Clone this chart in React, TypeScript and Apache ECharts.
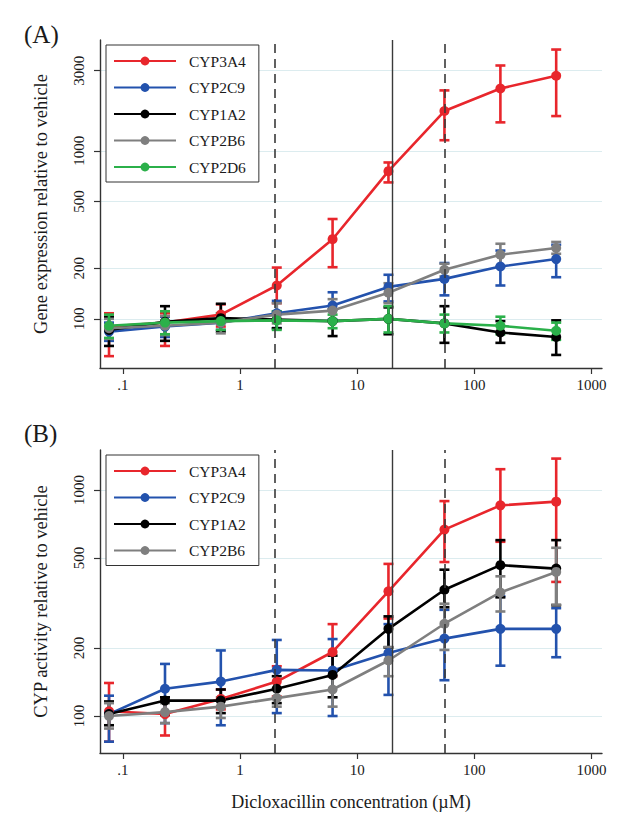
import React, { useEffect, useRef } from "react";
import * as echarts from "echarts";

// Dicloxacillin concentrations (µM), 3-fold dilutions
const conc = [0.0762, 0.229, 0.686, 2.06, 6.17, 18.5, 55.6, 167, 500];

// Panel A: gene expression relative to vehicle (%)
const a3A4 = [90, 95, 106, 158, 298, 757, 1726, 2350, 2799];
const a3A4Lo = [60, 69, 90, 124, 203, 649, 1157, 1478, 1611];
const a3A4Hi = [108, 108, 122, 202, 393, 853, 2290, 3222, 4010];
const a2C9 = [84, 90, 95, 108, 120, 155, 173, 205, 227];
const a2C9Lo = [74, 78, 86, 88, 99, 127, 138, 158, 177];
const a2C9Hi = [95, 103, 104, 128, 144, 183, 215, 255, 276];
const a1A2 = [86, 96, 101, 99, 97, 100, 94, 83, 78];
const a1A2Lo = [69, 74, 84, 88, 79, 81, 72, 72, 61];
const a1A2Hi = [103, 119, 123, 110, 114, 117, 119, 97, 98];
const a2B6 = [88, 91, 95, 106, 112, 143, 196, 241, 264];
const a2B6Lo = [76, 80, 82, 94, 97, 124, 179, 205, 244];
const a2B6Hi = [100, 104, 108, 124, 131, 163, 213, 280, 287];
const a2D6 = [91, 95, 97, 98, 97, 100, 94, 91, 85];
const a2D6Lo = [77, 81, 86, 86, 88, 83, 83, 81, 75];
const a2D6Hi = [106, 111, 108, 111, 106, 119, 106, 103, 95];

// Panel B: CYP activity relative to vehicle (%)
const b3A4 = [105, 102, 119, 142, 192, 356, 668, 855, 888];
const b3A4Lo = [77, 82, 107, 122, 150, 270, 480, 590, 392];
const b3A4Hi = [140, 121, 131, 166, 255, 471, 893, 1236, 1377];
const b2C9 = [102, 132, 142, 160, 159, 190, 220, 243, 243];
const b2C9Lo = [77, 93, 91, 103, 100, 124, 144, 167, 182];
const b2C9Hi = [123, 170, 195, 217, 219, 255, 295, 339, 300];
const b1A2 = [102, 117, 117, 132, 152, 243, 362, 465, 449];
const b1A2Lo = [91, 101, 103, 114, 121, 201, 303, 335, 309];
const b1A2Hi = [116, 121, 131, 150, 185, 276, 444, 600, 600];
const b2B6 = [100, 104, 110, 120, 131, 176, 256, 352, 434];
const b2B6Lo = [88, 93, 98, 110, 110, 150, 196, 290, 311];
const b2B6Hi = [114, 114, 121, 132, 150, 202, 314, 415, 555];

const xTicks = [0.1, 1, 10, 100, 1000];
const xTickLabels = [".1", "1", "10", "100", "1000"];
const yTicksA = [100, 200, 500, 1000, 3000];
const yTicksB = [100, 200, 500, 1000];
const dashedRefs = [2, 56];
const solidRefs = [20];

const namesA = ["CYP3A4", "CYP2C9", "CYP1A2", "CYP2B6", "CYP2D6"];
const namesB = ["CYP3A4", "CYP2C9", "CYP1A2", "CYP2B6"];
const colors: Record<string, string> = {
  CYP3A4: "#e8262c",
  CYP2C9: "#2352ad",
  CYP1A2: "#000000",
  CYP2B6: "#7f7f7f",
  CYP2D6: "#2bb04a",
};

const L = Math.log10;
const FONT = "Liberation Serif";
const TXT = "#1a1a1a";

function mkSeries(panel: number, name: string, mean: number[], lo: number[], hi: number[], extra?: any) {
  const color = colors[name];
  const err = {
    type: "custom",
    name: name + " error",
    xAxisIndex: panel,
    yAxisIndex: panel,
    silent: true,
    itemStyle: { color },
    data: conc.map((c, i) => [L(c), L(lo[i]), L(hi[i])]),
    encode: { x: 0, y: [1, 2] },
    renderItem: (params: any, api: any) => {
      const x = api.value(0);
      const p1 = api.coord([x, api.value(1)]);
      const p2 = api.coord([x, api.value(2)]);
      const w = 5;
      const st = { stroke: color, lineWidth: 2.6 };
      return {
        type: "group",
        children: [
          { type: "line", shape: { x1: p1[0], y1: p1[1], x2: p2[0], y2: p2[1] }, style: st },
          { type: "line", shape: { x1: p1[0] - w, y1: p1[1], x2: p1[0] + w, y2: p1[1] }, style: st },
          { type: "line", shape: { x1: p2[0] - w, y1: p2[1], x2: p2[0] + w, y2: p2[1] }, style: st },
        ],
      };
    },
  };
  const line: any = {
    type: "line",
    name,
    xAxisIndex: panel,
    yAxisIndex: panel,
    data: conc.map((c, i) => [L(c), L(mean[i])]),
    symbol: "circle",
    symbolSize: 10,
    showSymbol: true,
    lineStyle: { color, width: 2.6 },
    itemStyle: { color },
    ...(extra || {}),
  };
  return [err, line];
}

function refMarkLine() {
  return {
    silent: true,
    symbol: "none",
    label: { show: false },
    animation: false,
    data: [
      ...dashedRefs.map((v) => ({ xAxis: L(v), lineStyle: { type: [9, 6], color: "#3a3a3a", width: 1.6 } })),
      ...solidRefs.map((v) => ({ xAxis: L(v), lineStyle: { type: "solid", color: "#3a3a3a", width: 1.4 } })),
    ],
  };
}

function xAxisCfg(idx: number, withName: boolean) {
  return {
    type: "value",
    gridIndex: idx,
    min: -1.195,
    max: 3.09,
    axisLine: { show: true, onZero: false, lineStyle: { color: "#333", width: 1.4 } },
    axisTick: { show: true, length: 6, customValues: xTicks.map(L), lineStyle: { color: "#333", width: 1.2 } },
    axisLabel: {
      show: true,
      customValues: xTicks.map(L),
      formatter: (v: number) => {
        let best = 0;
        xTicks.forEach((t, i) => {
          if (Math.abs(L(t) - v) < Math.abs(L(xTicks[best]) - v)) best = i;
        });
        return xTickLabels[best];
      },
      fontFamily: FONT,
      fontSize: 15,
      color: TXT,
      margin: 9,
    },
    splitLine: { show: false },
    name: withName ? "Dicloxacillin concentration (\u00b5M)" : "",
    nameLocation: "middle",
    nameGap: 40,
    nameTextStyle: { fontFamily: FONT, fontSize: 18, color: TXT },
  };
}

function yAxisCfg(idx: number, min: number, max: number, ticks: number[], name: string) {
  return {
    type: "value",
    gridIndex: idx,
    min: L(min),
    max: L(max),
    axisLine: { show: true, onZero: false, lineStyle: { color: "#333", width: 1.4 } },
    axisTick: { show: true, length: 6, customValues: ticks.map(L), lineStyle: { color: "#333", width: 1.2 } },
    axisLabel: {
      show: true,
      customValues: ticks.map(L),
      rotate: 90,
      formatter: (v: number) => String(Math.round(Math.pow(10, v))),
      fontFamily: FONT,
      fontSize: 15,
      color: TXT,
      margin: 14,
    },
    splitLine: { show: true, lineStyle: { color: "#dcecef", width: 1.2 } },
    name,
    nameLocation: "middle",
    nameRotate: 90,
    nameGap: 50,
    nameTextStyle: { fontFamily: FONT, fontSize: 18.5, color: TXT },
  };
}

function legendCfg(names: string[], top: number) {
  return {
    data: names,
    orient: "vertical",
    left: 98,
    top,
    itemWidth: 62,
    itemHeight: 11,
    itemGap: 10.5,
    padding: [8, 13, 7, 7],
    borderColor: "#333",
    borderWidth: 1,
    backgroundColor: "#fff",
    selectedMode: false,
    textStyle: { fontFamily: FONT, fontSize: 15.5, color: TXT, padding: [0, 0, 0, 8] },
  };
}

export default function App() {
  const ref = useRef<HTMLDivElement>(null);
  useEffect(() => {
    if (!ref.current) return;
    const chart = echarts.init(ref.current, undefined, { renderer: "svg" });
    const series: any[] = [
      ...mkSeries(0, "CYP3A4", a3A4, a3A4Lo, a3A4Hi, { markLine: refMarkLine() }),
      ...mkSeries(0, "CYP2C9", a2C9, a2C9Lo, a2C9Hi),
      ...mkSeries(0, "CYP1A2", a1A2, a1A2Lo, a1A2Hi),
      ...mkSeries(0, "CYP2B6", a2B6, a2B6Lo, a2B6Hi),
      ...mkSeries(0, "CYP2D6", a2D6, a2D6Lo, a2D6Hi),
      ...mkSeries(1, "CYP3A4", b3A4, b3A4Lo, b3A4Hi, { markLine: refMarkLine() }),
      ...mkSeries(1, "CYP2C9", b2C9, b2C9Lo, b2C9Hi),
      ...mkSeries(1, "CYP1A2", b1A2, b1A2Lo, b1A2Hi),
      ...mkSeries(1, "CYP2B6", b2B6, b2B6Lo, b2B6Hi),
    ];
    chart.setOption({
      animation: false,
      backgroundColor: "#fff",
      title: [
        { text: "(A)", left: 16, top: 14, padding: 0, textStyle: { fontFamily: FONT, fontSize: 25, fontWeight: "normal", color: TXT } },
        { text: "(B)", left: 16, top: 413, padding: 0, textStyle: { fontFamily: FONT, fontSize: 25, fontWeight: "normal", color: TXT } },
      ],
      grid: [
        { left: 92, right: 21, top: 32, height: 328 },
        { left: 92, right: 21, top: 442, height: 303 },
      ],
      xAxis: [xAxisCfg(0, false), xAxisCfg(1, true)],
      yAxis: [
        yAxisCfg(0, 51, 4570, yTicksA, "Gene expression relative to vehicle"),
        yAxisCfg(1, 68.6, 1503, yTicksB, "CYP activity relative to vehicle"),
      ],
      legend: [legendCfg(namesA, 37), legendCfg(namesB, 447)],
      series,
    });
    return () => chart.dispose();
  }, []);
  return <div ref={ref} style={{ width: 615, height: 823 }} />;
}
